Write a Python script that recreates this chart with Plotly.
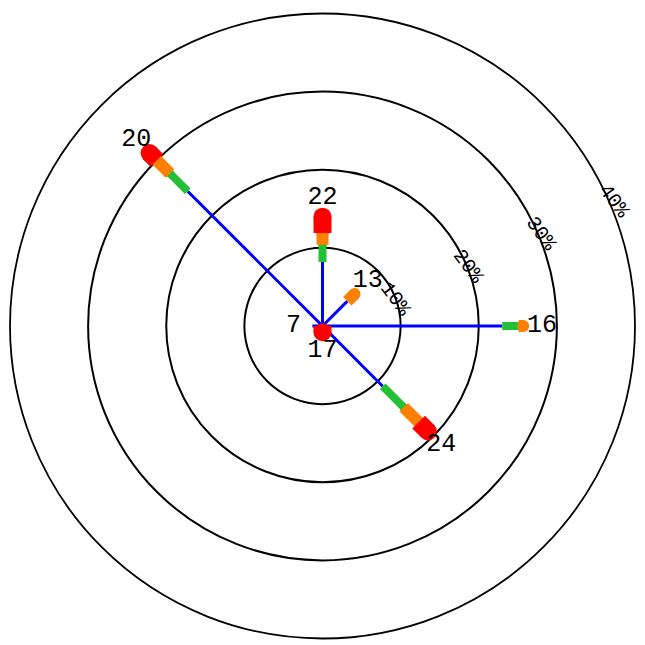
import plotly.graph_objects as go

directions = [0, 45, 90, 135, 180, 225, 270, 315]
# cumulative percentages at the end of each band
band1 = [8.2, 4.5, 23.0, 10.9, 0.0, 0.0, 1.3, 24.4]
band2 = [10.4, 4.5, 25.1, 14.7, 0.0, 0.0, 1.3, 27.6]
band3 = [11.9, 5.8, 25.7, 17.4, 0.0, 0.0, 1.3, 30.0]
band4 = [14.0, 5.8, 25.7, 19.1, 0.8, 0.0, 1.3, 31.3]
labels = ["22", "13", "16", "24", "17", "", "7", "20"]
tick_vals = [10, 20, 30, 40]
tick_text = ["10%", "20%", "30%", "40%"]
tick_pad = [0, 2, 4, 6]  # leading non-breaking spaces to slide labels along the rings

colors = ["#0000FF", "#22C032", "#FF8000", "#FF0000"]
widths = [3, 8, 12, 18]

bands = [band1, band2, band3, band4]

fig = go.Figure()
for b in range(4):
    r, th, er, eth = [], [], [], []
    for i, d in enumerate(directions):
        start = 0.0 if b == 0 else bands[b - 1][i]
        end = bands[b][i]
        if end - start <= 0:
            continue
        r += [start, end, None]
        th += [d, d, None]
        er.append(end)
        eth.append(d)
    fig.add_trace(go.Scatterpolar(r=r, theta=th, mode="lines",
                                  line=dict(color=colors[b], width=widths[b]),
                                  connectgaps=False, hoverinfo="skip"))
    if b > 0:
        fig.add_trace(go.Scatterpolar(r=er, theta=eth, mode="markers",
                                      marker=dict(color=colors[b], size=widths[b], line=dict(width=0)),
                                      hoverinfo="skip"))

fig.add_trace(go.Scatterpolar(r=[v + 2.4 for v in band4], theta=directions, mode="text",
                              text=labels, textposition="middle center",
                              textfont=dict(family="Liberation Mono", size=25, color="black"),
                              hoverinfo="skip"))

fig.update_layout(
    width=645, height=645,
    margin=dict(l=2, r=18, t=5, b=14),
    paper_bgcolor="white",
    showlegend=False,
    polar=dict(
        bgcolor="white",
        radialaxis=dict(range=[0, 40], tickvals=tick_vals,
                        ticktext=["\u00a0" * p + t for p, t in zip(tick_pad, tick_text)],
                        showgrid=True, gridcolor="black", gridwidth=1.8,
                        showline=False, ticks="", angle=41.6, tickangle=94.6,
                        tickfont=dict(family="Liberation Mono", size=20, color="black")),
        angularaxis=dict(rotation=90, direction="clockwise", showgrid=False,
                         showticklabels=False, ticks="", showline=True,
                         linecolor="black", linewidth=1.8),
    ),
)
fig.write_html("out.html")
